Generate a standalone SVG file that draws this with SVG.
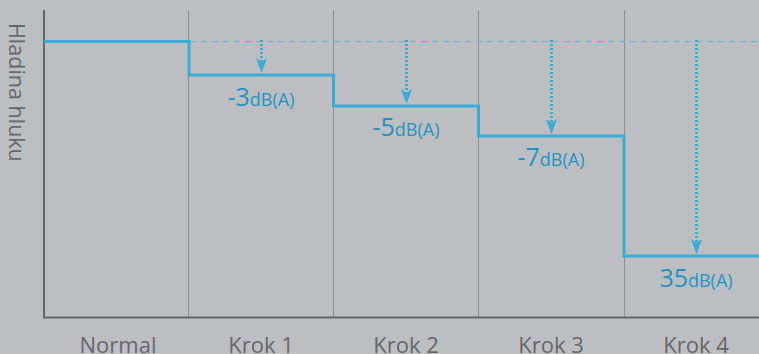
<svg xmlns="http://www.w3.org/2000/svg" width="759" height="354" viewBox="0 0 759 354">
<defs>
<style>
.grid{stroke:#8e8f93;stroke-width:1;fill:none}
.axis{stroke:#646569;stroke-width:2;fill:none}
.step{stroke:#36acd6;stroke-width:3;fill:none}
.ref{stroke:#5fb8da;stroke-width:1;stroke-dasharray:6 5;fill:none}
.drop{stroke:#36acd6;stroke-width:3;stroke-dasharray:2 2;fill:none}
.head{fill:#36acd6}
.lbl{font-family:"Open Sans","Noto Sans",sans-serif;fill:#1f94c3;text-anchor:middle}
.big{font-size:25px}
.small{font-size:18px}
.xl{font-family:"Open Sans","Noto Sans",sans-serif;font-size:22px;fill:#66676b;text-anchor:middle}
</style>
</defs>
<rect width="759" height="354" fill="#bdbec2"/>
<g id="grid">
<line class="grid" x1="188.5" y1="10" x2="188.5" y2="318"/>
<line class="grid" x1="333.5" y1="10" x2="333.5" y2="318"/>
<line class="grid" x1="478.5" y1="10" x2="478.5" y2="318"/>
<line class="grid" x1="624.5" y1="10" x2="624.5" y2="318"/>
</g>
<g id="axes">
<line class="axis" x1="44" y1="10" x2="44" y2="318"/>
<line class="axis" x1="43" y1="317.5" x2="759" y2="317.5"/>
<text transform="translate(9,23) rotate(90)" font-family="'Open Sans','Noto Sans',sans-serif" font-size="21.5" fill="#66676b">Hladina hluku</text>
</g>
<g id="connectors">
<line class="ref" x1="190" y1="41.5" x2="759" y2="41.5"/>
<polyline class="step" points="44,41.5 189,41.5 189,75 333.5,75 333.5,106 478.5,106 478.5,136 624,136 624,256 759,256"/>
<path class="drop" d="M261.5 40 V66"/>
<path class="drop" d="M406.5 40 V97"/>
<path class="drop" d="M551.5 40 V127"/>
<path class="drop" d="M696.5 40 V247"/>
<path class="head" d="M256 58 L261.5 62 L267 58 L261.5 73 Z"/>
<path class="head" d="M401 89 L406.5 93 L412 89 L406.5 104 Z"/>
<path class="head" d="M546 119 L551.5 123 L557 119 L551.5 134 Z"/>
<path class="head" d="M691 239 L696.5 243 L702 239 L696.5 254 Z"/>
</g>
<g id="label-step1"><text class="lbl" x="261" y="106"><tspan class="big">-3</tspan><tspan class="small">dB(A)</tspan></text></g>
<g id="label-step2"><text class="lbl" x="406" y="136"><tspan class="big">-5</tspan><tspan class="small">dB(A)</tspan></text></g>
<g id="label-step3"><text class="lbl" x="551" y="166"><tspan class="big">-7</tspan><tspan class="small">dB(A)</tspan></text></g>
<g id="label-step4"><text class="lbl" x="696" y="287"><tspan class="big">35</tspan><tspan class="small">dB(A)</tspan></text></g>
<g id="x-labels">
<text class="xl" x="118" y="353">Normal</text>
<text class="xl" x="261" y="353">Krok 1</text>
<text class="xl" x="406" y="353">Krok 2</text>
<text class="xl" x="551" y="353">Krok 3</text>
<text class="xl" x="696" y="353">Krok 4</text>
</g>
</svg>
